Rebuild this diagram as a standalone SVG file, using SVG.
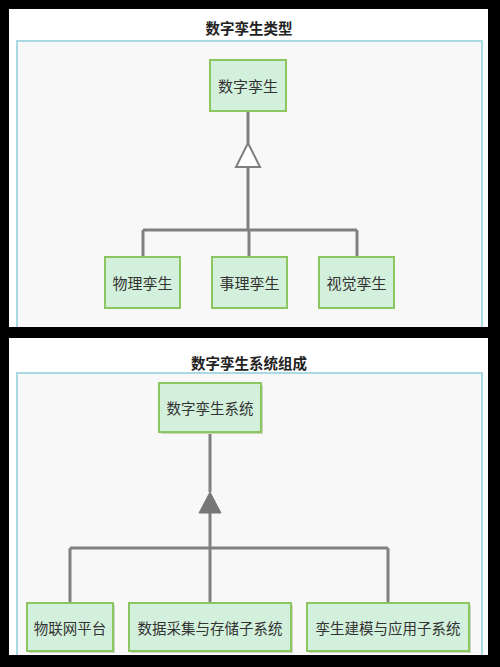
<svg xmlns="http://www.w3.org/2000/svg" width="500" height="667" viewBox="0 0 500 667">
<style>
.panel{fill:#ffffff}
.frame{fill:#f8f8f8;stroke:#a9d9e2;stroke-width:2}
.node{fill:#d3f0dc;stroke:#8cc660;stroke-width:2}
.shadow{fill:#c9d6c0}
.lbl{font-family:"Noto Sans CJK SC","Noto Sans",sans-serif;font-size:15px;fill:#333333;text-anchor:middle;dominant-baseline:central}
.lbl2{font-family:"Noto Sans CJK SC","Noto Sans",sans-serif;font-size:14.5px;fill:#333333;text-anchor:middle;dominant-baseline:central}
.title{font-family:"Noto Sans CJK SC","Noto Sans",sans-serif;font-size:14.5px;font-weight:bold;fill:#222222;text-anchor:middle;dominant-baseline:central}
.edge{fill:none;stroke:#808080;stroke-width:3}
</style>
<rect x="0" y="0" width="500" height="667" fill="#000000"/>
<g id="panel1">
<rect class="panel" x="9" y="9" width="479" height="318"/>
<text class="title" x="249" y="27">数字孪生类型</text>
<rect class="frame" x="17" y="41" width="465" height="300"/>
</g>
<g id="panel1-clip-fix">
<rect x="0" y="327" width="500" height="11" fill="#000000"/>
</g>
<g id="panel2">
<rect class="panel" x="9" y="338" width="479" height="317"/>
<text class="title" x="249" y="362">数字孪生系统组成</text>
<rect class="frame" x="17" y="373" width="465" height="300"/>
<rect x="0" y="655" width="500" height="12" fill="#000000"/>
</g>
<g id="connectors">
<path class="edge" d="M248,111 V143 M248,167 V230 M143,230 H357 M143,230 V257 M249,230 V257 M357,230 V257"/>
<polygon points="248,143 260,167 236,167" fill="#ffffff" stroke="#808080" stroke-width="2"/>
<path class="edge" d="M210,432 V492 M210,513 V548 M70,548 H388 M70,548 V603 M210,548 V603 M388,548 V603"/>
<polygon points="210,492 221,513 199,513" fill="#777777" stroke="#777777" stroke-width="1"/>
</g>
<g id="n-root1">
<rect class="node" x="210" y="60" width="76" height="51"/>
<text class="lbl" x="248" y="85.5">数字孪生</text>
</g>
<g id="n-physical">
<rect class="node" x="105" y="257" width="75" height="51"/>
<text class="lbl" x="142.5" y="282.5">物理孪生</text>
</g>
<g id="n-affair">
<rect class="node" x="212" y="257" width="75" height="51"/>
<text class="lbl" x="249.5" y="282.5">事理孪生</text>
</g>
<g id="n-visual">
<rect class="node" x="319" y="257" width="75" height="51"/>
<text class="lbl" x="356.5" y="282.5">视觉孪生</text>
</g>
<g id="n-root2">
<rect class="shadow" x="161" y="385" width="102" height="49"/>
<rect class="node" x="159" y="383" width="102" height="49"/>
<text class="lbl2" x="210" y="407.5">数字孪生系统</text>
</g>
<g id="n-iot">
<rect class="shadow" x="29" y="605" width="86" height="48"/>
<rect class="node" x="27" y="603" width="86" height="48"/>
<text class="lbl2" x="70" y="627">物联网平台</text>
</g>
<g id="n-data">
<rect class="shadow" x="131" y="605" width="162" height="48"/>
<rect class="node" x="129" y="603" width="162" height="48"/>
<text class="lbl2" x="210" y="627">数据采集与存储子系统</text>
</g>
<g id="n-model">
<rect class="shadow" x="309" y="605" width="162" height="48"/>
<rect class="node" x="307" y="603" width="162" height="48"/>
<text class="lbl2" x="388" y="627">孪生建模与应用子系统</text>
</g>
</svg>
